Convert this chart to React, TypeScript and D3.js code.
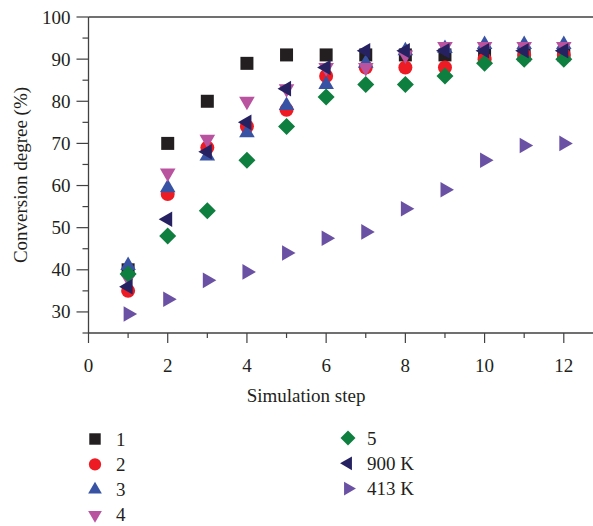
import React from "react";
import * as d3 from "d3";

const steps = [1, 2, 3, 4, 5, 6, 7, 8, 9, 10, 11, 12];
const s1 = [40, 70, 80, 89, 91, 91, 91, 91, 91, 91, 91, 91];
const s2 = [35, 58, 69, 74, 78, 86, 88, 88, 88, 90, 91, 91];
const s3 = [41, 59.5, 67, 72.5, 79, 84, 89, 92, 92.5, 93.5, 93.5, 93.5];
const s4 = [38, 63, 71, 80, 83, 88, 88, 91, 93, 93, 93, 93];
const s5 = [39, 48, 54, 66, 74, 81, 84, 84, 86, 89, 90, 90];
const s900 = [36, 52, 68, 75, 83, 88, 92, 92, 92, 92, 92, 92];
const s413 = [29.5, 33, 37.5, 39.5, 44, 47.5, 49, 54.5, 59, 66, 69.5, 70];

const seriesNames = ["1", "2", "3", "4", "5", "900 K", "413 K"];
const seriesValues = [s1, s2, s3, s4, s5, s900, s413];
const seriesShapes = ["square", "circle", "up", "down", "diamond", "left", "right"];
const seriesColors = ["#231f20", "#ed1c24", "#3953a4", "#b9529f", "#0f7f40", "#262262", "#6a51a3"];

const xMajorTicks = [0, 2, 4, 6, 8, 10, 12];
const xMinorTicks = [1, 3, 5, 7, 9, 11];
const yMajorTicks = [30, 40, 50, 60, 70, 80, 90, 100];
const yMinorTicks = [25, 35, 45, 55, 65, 75, 85, 95];

const FONT = "'Liberation Serif', 'Times New Roman', serif";
const AXIS = "#414042";
const FS = 19;

function shapePath(shape: string, k = 1): string {
  if (shape === "square") {
    const h = 6.5 * k;
    return `M${-h},${-h}H${h}V${h}H${-h}Z`;
  }
  if (shape === "circle") {
    const r = 7 * k;
    return `M${r},0A${r},${r} 0 1,1 ${-r},0A${r},${r} 0 1,1 ${r},0Z`;
  }
  if (shape === "diamond") {
    const d = 8.5 * k;
    return `M0,${-d}L${d},0L0,${d}L${-d},0Z`;
  }
  const R = 9 * k;
  const angle = { up: 0, right: 90, down: 180, left: 270 }[shape] as number;
  const pts = [0, 120, 240].map((a) => {
    const t = ((a + angle - 90) * Math.PI) / 180;
    return [R * Math.cos(t), R * Math.sin(t)];
  });
  return `M${pts[0][0]},${pts[0][1]}L${pts[1][0]},${pts[1][1]}L${pts[2][0]},${pts[2][1]}Z`;
}

export default function App() {
  const W = 593;
  const H = 526;
  const x = d3.scaleLinear().domain([0, 12.75]).range([88.5, 593.5]);
  const y = d3.scaleLinear().domain([25, 100]).range([333, 17]);
  const x0 = x(0);
  const yBase = y(25);

  const legendLeft = [0, 1, 2, 3];
  const legendRight = [4, 5, 6];

  return (
    <svg width={W} height={H} style={{ position: "absolute", left: 0, top: 0 }} fontFamily={FONT}>
      <rect x={0} y={0} width={W} height={H} fill="#ffffff" />
      <line x1={x0} x2={W} y1={y(100)} y2={y(100)} stroke={AXIS} strokeWidth={1.3} />
      <line x1={x0} x2={W} y1={yBase} y2={yBase} stroke={AXIS} strokeWidth={1.3} />
      <line x1={x0} x2={x0} y1={y(100)} y2={yBase} stroke={AXIS} strokeWidth={1.3} />
      {xMajorTicks.map((t) => (
        <g key={"xm" + t}>
          <line x1={x(t)} x2={x(t)} y1={yBase} y2={yBase + 10} stroke={AXIS} strokeWidth={1.2} />
          <text x={x(t)} y={yBase + 39} textAnchor="middle" fontSize={FS} fill="#231f20">{t}</text>
        </g>
      ))}
      {xMinorTicks.map((t) => (
        <line key={"xn" + t} x1={x(t)} x2={x(t)} y1={yBase} y2={yBase + 5} stroke={AXIS} strokeWidth={1.2} />
      ))}
      {yMajorTicks.map((t) => (
        <g key={"ym" + t}>
          <line x1={x0 - 12} x2={x0} y1={y(t)} y2={y(t)} stroke={AXIS} strokeWidth={1.2} />
          <text x={x0 - 18} y={y(t) + 6.5} textAnchor="end" fontSize={FS} fill="#231f20">{t}</text>
        </g>
      ))}
      {yMinorTicks.map((t) => (
        <line key={"yn" + t} x1={x0 - 6} x2={x0} y1={y(t)} y2={y(t)} stroke={AXIS} strokeWidth={1.2} />
      ))}
      <text x={306} y={402} textAnchor="middle" fontSize={FS} fill="#231f20">Simulation step</text>
      <text transform={`translate(27,${(y(100) + yBase) / 2}) rotate(-90)`} textAnchor="middle" fontSize={FS} fill="#231f20">
        Conversion degree (%)
      </text>
      {seriesValues.map((vals, si) => (
        <g key={"s" + si} fill={seriesColors[si]}>
          {vals.map((v, i) => (
            <path key={i} d={shapePath(seriesShapes[si])} transform={`translate(${x(steps[i])},${y(v)})`} />
          ))}
        </g>
      ))}
      {legendLeft.map((si, r) => (
        <g key={"ll" + si} transform={`translate(95,${439 + r * 25.3})`}>
          <path d={shapePath(seriesShapes[si], 0.88)} fill={seriesColors[si]} />
          <text x={21} y={6.5} fontSize={FS} fill="#231f20">{seriesNames[si]}</text>
        </g>
      ))}
      {legendRight.map((si, r) => (
        <g key={"lr" + si} transform={`translate(348,${438 + r * 25.3})`}>
          <path d={shapePath(seriesShapes[si], 0.88)} fill={seriesColors[si]} />
          <text x={19} y={6.5} fontSize={FS} fill="#231f20">{seriesNames[si]}</text>
        </g>
      ))}
    </svg>
  );
}
